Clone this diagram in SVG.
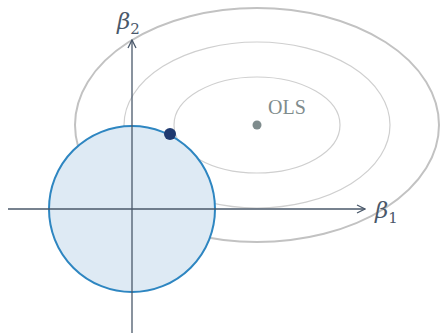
<svg xmlns="http://www.w3.org/2000/svg" width="440" height="334" viewBox="0 0 440 334">
<style>
.contour{fill:none;stroke:#cfcfcf;stroke-width:1.2}
.outer{fill:none;stroke:#c2c2c2;stroke-width:2}
.axis{stroke:#4a586a;stroke-width:1.3;fill:none}
.lab{font-family:"DejaVu Serif","Liberation Serif",serif;fill:#4a586a}
</style>
<defs>
<marker id="arr" viewBox="0 0 10 10" refX="9" refY="5" markerWidth="10" markerHeight="10" markerUnits="userSpaceOnUse" orient="auto">
<path d="M1,1 L9,5 L1,9" fill="none" stroke="#4a586a" stroke-width="1.3"/>
</marker>
</defs>
<g id="contours">
<ellipse class="outer" cx="257" cy="125" rx="182" ry="117"/>
<ellipse class="contour" cx="257" cy="125" rx="133" ry="83"/>
<ellipse class="contour" cx="257" cy="125" rx="83" ry="48"/>
</g>
<g id="constraint">
<circle cx="132" cy="209" r="83" fill="#deeaf4" stroke="#2e86c1" stroke-width="2"/>
</g>
<g id="connectors">
<line class="axis" x1="8" y1="209" x2="365" y2="209" marker-end="url(#arr)"/>
<line class="axis" x1="132" y1="333" x2="132" y2="40" marker-end="url(#arr)"/>
</g>
<g id="ols">
<circle cx="257" cy="125" r="4.5" fill="#7f8c8d"/>
<text x="268" y="114" font-family="Liberation Serif, serif" font-size="20" fill="#7f8c8d">OLS</text>
</g>
<g id="ridge">
<circle cx="170" cy="134" r="6" fill="#1f3a70"/>
</g>
<g id="labels">
<text class="lab" x="117" y="29" font-size="23" font-style="italic">β<tspan font-size="15" font-style="normal" dy="5">2</tspan></text>
<text class="lab" x="375" y="218" font-size="23" font-style="italic">β<tspan font-size="15" font-style="normal" dy="5">1</tspan></text>
</g>
</svg>
